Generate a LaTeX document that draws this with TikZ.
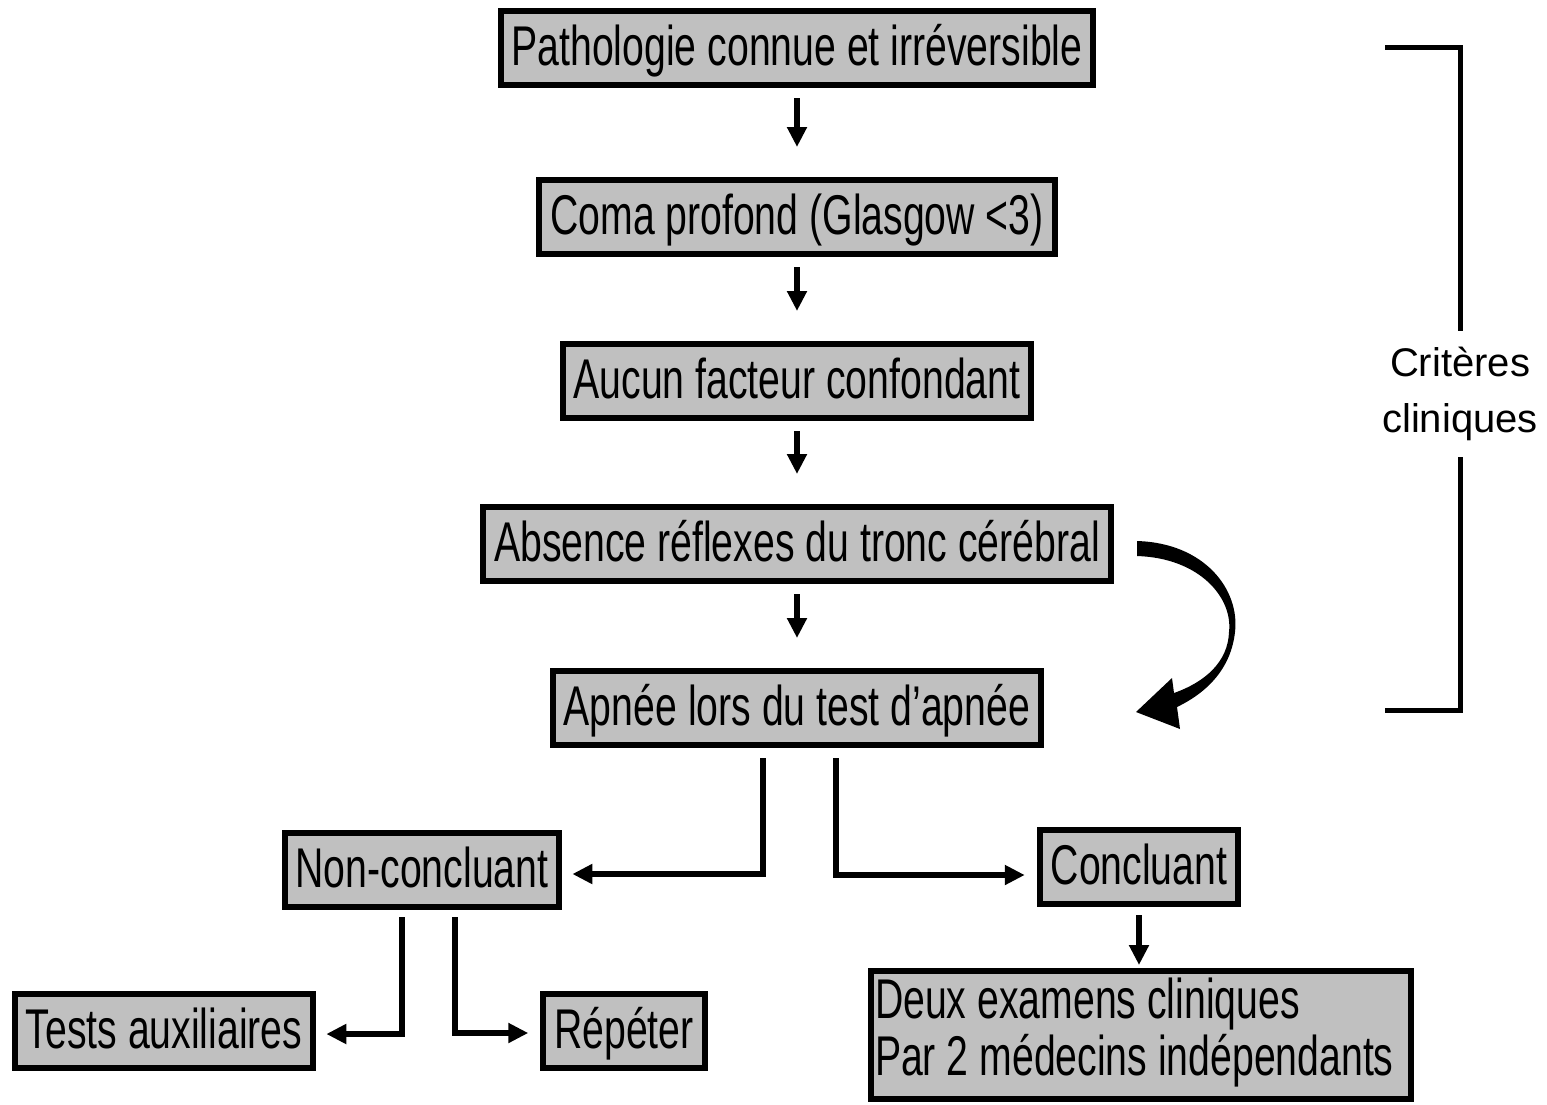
\documentclass[tikz,border=0pt]{standalone}
\usepackage{fontspec}
\setmainfont{Liberation Sans}
\newfontfamily\narrowsans{Liberation Sans}[FakeStretch=0.70]
\usetikzlibrary{arrows.meta,calc}
\definecolor{boxgray}{RGB}{192,192,192}

\begin{document}
\begin{tikzpicture}[x=1pt,y=-1pt,
  stepbox/.style={draw=black, line width=6pt, fill=boxgray,
    inner xsep=11pt, inner ysep=0pt, minimum height=74pt,
    font=\narrowsans\fontsize{56}{60}\selectfont,
    text height=44pt, text depth=10pt},
  bigbox/.style={draw=black, line width=6pt, fill=boxgray,
    inner xsep=4pt, inner ysep=0pt, minimum height=128pt,
    font=\narrowsans\fontsize{56}{55}\selectfont},
  arr/.style={line width=6pt, -{Triangle[length=20pt,width=19pt]}},
  bracket/.style={line width=5pt},
]
\useasboundingbox (0,0) rectangle (1547,1104);

% main chain of clinical criteria
\node[stepbox] (b1) at (797,48)  {Pathologie connue et irréversible};
\node[stepbox] (b2) at (797,217) {Coma profond (Glasgow <3)};
\node[stepbox] (b3) at (797,381) {Aucun facteur confondant};
\node[stepbox] (b4) at (797,544) {Absence réflexes du tronc cérébral};
\node[stepbox] (b5) at (797,708) {Apnée lors du test d’apnée};

% outcomes
\node[stepbox] (nc)  at (422,870)  {Non-concluant};
\node[stepbox] (co)  at (1139,867) {Concluant};
\node[stepbox] (ta)  at (164,1031) {Tests auxiliaires};
\node[stepbox] (rep) at (624,1031) {Répéter};
\node[bigbox]  (dx)  at (1141,1035)
  {\makebox[532pt][l]{\begin{tabular}{@{}l@{}}Deux examens cliniques\\
   Par 2 médecins indépendants\end{tabular}}};

% short vertical arrows between the steps
\foreach \a/\b in {b1/b2,b2/b3,b3/b4,b4/b5}
  \draw[arr, shorten <=10pt, shorten >=30pt] (\a.south) -- (\b.north);

% branching after the apnoea test
\coordinate (s1) at ($(b5.south)+(-34,10)$);
\coordinate (s2) at ($(b5.south)+(39,10)$);
\draw[arr, shorten >=10pt] (s1) |- ($(nc.east)+(0,4)$);
\draw[arr, shorten >=12pt] (s2) |- ($(co.west)+(0,8)$);

% branching after an inconclusive result
\coordinate (t1) at ($(nc.south)+(-20,7)$);
\coordinate (t2) at ($(nc.south)+(33,7)$);
\draw[arr, shorten >=10pt] (t1) |- ($(ta.east)+(0,3)$);
\draw[arr, shorten >=12pt] (t2) |- ($(rep.west)+(0,2)$);

% conclusive result
\draw[arr, shorten <=8pt, shorten >=3pt] (co.south) -- (co.south |- dx.north);

% curved arrow beside the brainstem step
\fill[black]
  (1137,541) .. controls (1205,543) and (1240,590) .. (1235,632)
  .. controls (1231,668) and (1208,692) .. (1177,707)
  -- (1180,729) -- (1136,712) -- (1172,678) -- (1174,693)
  .. controls (1205,682) and (1228,662) .. (1229,632)
  .. controls (1233,598) and (1200,558) .. (1137,556) -- cycle;

% bracket grouping the clinical criteria
\node[font=\fontsize{40}{56}\selectfont, align=center, inner sep=0pt]
  (crit) at (1460,394) {Critères\\cliniques};
\coordinate (brtl) at (1385,47);
\coordinate (brbl) at (1385,710);
\draw[bracket] (brtl) -| ($(crit.north)+(0,-16)$);
\draw[bracket] ($(crit.south)+(0,16)$) |- (brbl);
\end{tikzpicture}
\end{document}
